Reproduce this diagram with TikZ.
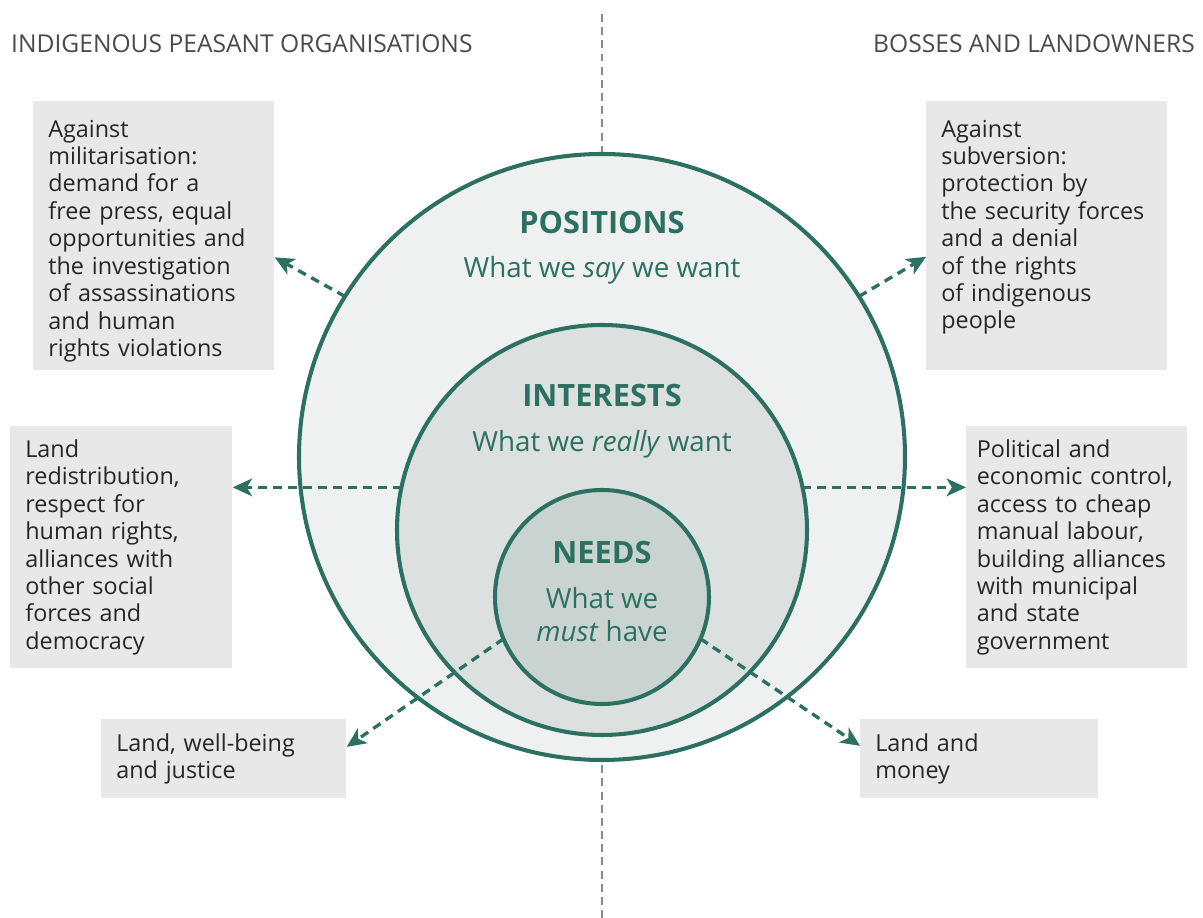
\documentclass[tikz,border=0pt]{standalone}
\usepackage{fontspec}
\setmainfont{Open Sans}
\usepackage{tikz}
\usetikzlibrary{positioning,arrows.meta}
\definecolor{ringgreen}{HTML}{2B7061}
\definecolor{posfill}{HTML}{EFF1F0}
\definecolor{intfill}{HTML}{DCE1DF}
\definecolor{needfill}{HTML}{C9D4D0}
\definecolor{boxgrey}{HTML}{E8E8E8}
\definecolor{inktext}{HTML}{262626}
\definecolor{headgrey}{HTML}{4A4A4A}
\definecolor{axisgrey}{HTML}{8A8A8A}
\tikzstyle{link} = [-{Stealth[length=11pt,width=10pt,inset=3pt]}, ringgreen, line width=1.9pt, dash pattern=on 5pt off 3.5pt]
\tikzstyle{ring} = [circle, draw=ringgreen, line width=2.3pt, outer sep=0pt, inner sep=0pt]
\tikzstyle{ringtitle} = [anchor=base, text=ringgreen, font=\fontsize{17.5}{21}\selectfont\bfseries]
\tikzstyle{ringsub} = [anchor=base, text=ringgreen, font=\fontsize{15.8}{18.8}\selectfont, align=center]
\tikzstyle{sidehead} = [text=headgrey, font=\fontsize{14}{16}\selectfont]
\tikzstyle{sidebox} = [fill=boxgrey, text=inktext, font=\fontsize{13.3}{15.6}\selectfont, align=left, anchor=north west, inner xsep=0.3cm, inner ysep=0.1cm]

\begin{document}
\begin{tikzpicture}
    \useasboundingbox (0,0) rectangle (24.06,18.36);

    % Dashed divider between the two sides
    \coordinate (divtop) at (12.04,18.08);
    \coordinate (divbot) at (12.04,0);
    \draw[axisgrey, line width=1.1pt, dash pattern=on 4.5pt off 3pt] (divtop) -- (divbot);

    % Side headings
    \node[sidehead, anchor=base west] (lefthead) at (0.1,17.3) {INDIGENOUS PEASANT ORGANISATIONS};
    \node[sidehead, anchor=base east] (righthead) at (24.02,17.3) {BOSSES AND LANDOWNERS};

    % Rings, largest first
    \foreach \ring/\size/\y/\col in {positions/12.12/9.22/posfill, interests/8.2/7.76/intfill, needs/4.28/6.42/needfill} {
        \node[ring, fill=\col, minimum size=\size cm] (\ring) at (12.04,\y) {};
    }

    % Ring labels
    \node[ringtitle] (postitle) at (12.04,13.68) {POSITIONS};
    \node[ringsub] (possub) at (12.04,12.8) {What we \textit{say} we want};
    \node[ringtitle] (inttitle) at (12.04,10.22) {INTERESTS};
    \node[ringsub] (intsub) at (12.04,9.32) {What we \textit{really} want};
    \node[ringtitle] (needtitle) at (12.04,7.08) {NEEDS};
    \node[ringsub] (needsub) at (12.04,5.52) {What we\\\textit{must} have};

    % Left side
    \node[sidebox, text width=4.22cm, text height=0.55cm, minimum height=5.38cm] (posleft) at (0.66,16.34) {Against\\militarisation:\\demand for a\\free press, equal\\opportunities and\\the investigation\\of assassinations\\and human\\rights violations};
    \node[sidebox, text width=3.84cm, minimum height=4.84cm] (intleft) at (0.2,9.84) {Land\\redistribution,\\respect for\\human rights,\\alliances with\\other social\\forces and\\democracy};
    \node[sidebox, text width=4.3cm, minimum height=1.58cm] (needleft) at (2.02,3.98) {Land, well-being\\and justice};

    % Right side
    \node[sidebox, text width=4.22cm, text height=0.55cm, minimum height=5.38cm, text depth=4.5cm] (posright) at (18.52,16.34) {Against\\subversion:\\protection by\\the security forces\\and a denial\\of the rights\\of indigenous\\people};
    \node[sidebox, text width=4cm, inner xsep=0.21cm, minimum height=4.84cm] (intright) at (19.32,9.84) {Political and\\economic control,\\access to cheap\\manual labour,\\building alliances\\with municipal\\and state\\government};
    \node[sidebox, text width=4.16cm, minimum height=1.58cm] (needright) at (17.2,3.98) {Land and\\money};

    % Dashed arrows out of the rings
    \draw[link] (positions.148) -- ([yshift=-0.43cm]posleft.east);
    \draw[link] (positions.32) -- ([yshift=-0.42cm]posright.west);
    \draw[link] (interests.168) -- (interests.168 -| intleft.east);
    \draw[link] (interests.12) -- (interests.12 -| intright.west);
    \draw[link] (needs.203) -- ([yshift=0.24cm]needleft.east);
    \draw[link] (needs.-23) -- ([yshift=0.26cm]needright.west);
\end{tikzpicture}
\end{document}
